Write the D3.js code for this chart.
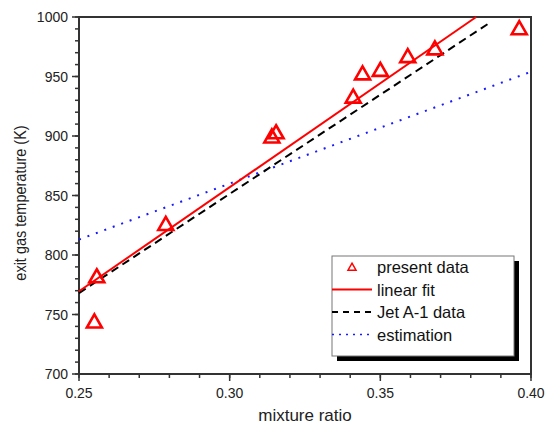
<!DOCTYPE html>
<html>
<head>
<meta charset="utf-8">
<script src="https://cdn.jsdelivr.net/npm/d3@7"></script>
<style>
  body { margin: 0; background: #fff; }
  text { font-family: "Liberation Sans", Arial, sans-serif; }
</style>
</head>
<body>
<svg id="chart" width="553" height="429"></svg>
<script>
// data
var ratio = [0.2551, 0.2559, 0.2788, 0.3140, 0.3154, 0.3410, 0.3441, 0.3500, 0.3591, 0.3681, 0.3961];
var temp  = [744, 782, 826, 899.5, 903, 933, 952.5, 955.5, 967, 973.5, 990.5];

var fitX = [0.25, 0.3818];      // linear fit end points
var fitY = [769.5, 1000];
var jetX = [0.25, 0.3868];      // Jet A-1 data
var jetY = [768, 996];
var estX = [0.25, 0.40];        // estimation
var estY = [813, 954];

var xTicks = [0.25, 0.30, 0.35, 0.40];
var yTicks = [700, 750, 800, 850, 900, 950, 1000];
var legendLabels = ["present data", "linear fit", "Jet A-1 data", "estimation"];

var margin = {left: 79, top: 17, right: 22, bottom: 55};
var width = 553 - margin.left - margin.right;
var height = 429 - margin.top - margin.bottom;

var svg = d3.select("#chart");
var g = svg.append("g").attr("transform", "translate(" + margin.left + "," + margin.top + ")");

var x = d3.scaleLinear().domain([0.25, 0.40]).range([0, width]);
var y = d3.scaleLinear().domain([700, 1000]).range([height, 0]);

// frame
g.append("rect")
  .attr("width", width).attr("height", height)
  .attr("fill", "none").attr("stroke", "#333").attr("stroke-width", 2);

// axes with minor ticks
var xMinor = d3.range(0.25, 0.4001, 0.01);
var yMinor = d3.range(700, 1001, 10);

var xAxis = g.append("g").attr("transform", "translate(0," + height + ")");
xAxis.selectAll("line.minor").data(xMinor).enter().append("line")
  .attr("x1", function(d) { return x(d); }).attr("x2", function(d) { return x(d); })
  .attr("y1", 0).attr("y2", 4).attr("stroke", "#333").attr("stroke-width", 1.5);
xAxis.selectAll("line.major").data(xTicks).enter().append("line")
  .attr("x1", function(d) { return x(d); }).attr("x2", function(d) { return x(d); })
  .attr("y1", 0).attr("y2", 7).attr("stroke", "#333").attr("stroke-width", 1.5);
xAxis.selectAll("text").data(xTicks).enter().append("text")
  .attr("x", function(d) { return x(d); }).attr("y", 24)
  .attr("text-anchor", "middle").attr("font-size", 14).attr("fill", "#222")
  .text(function(d) { return d3.format(".2f")(d); });

var yAxis = g.append("g");
yAxis.selectAll("line.minor").data(yMinor).enter().append("line")
  .attr("y1", function(d) { return y(d); }).attr("y2", function(d) { return y(d); })
  .attr("x1", 0).attr("x2", -4).attr("stroke", "#333").attr("stroke-width", 1.5);
yAxis.selectAll("line.major").data(yTicks).enter().append("line")
  .attr("y1", function(d) { return y(d); }).attr("y2", function(d) { return y(d); })
  .attr("x1", 0).attr("x2", -7).attr("stroke", "#333").attr("stroke-width", 1.5);
yAxis.selectAll("text").data(yTicks).enter().append("text")
  .attr("x", -11).attr("y", function(d) { return y(d) + 5; })
  .attr("text-anchor", "end").attr("font-size", 14).attr("fill", "#222")
  .text(function(d) { return d; });

// axis titles (picture looks a bit stretched sideways)
svg.append("text")
  .attr("x", margin.left + width / 2).attr("y", 421)
  .attr("text-anchor", "middle").attr("font-size", 17).attr("fill", "#222")
  .text("mixture ratio");
svg.append("text")
  .attr("transform", "translate(26,203) rotate(-90) scale(1,1.12)")
  .attr("text-anchor", "middle").attr("font-size", 14.5).attr("fill", "#222")
  .text("exit gas temperature (K)");

// lines
var line = d3.line().x(function(d) { return x(d[0]); }).y(function(d) { return y(d[1]); });
var plot = g.append("g");

plot.append("path").datum(d3.zip(estX, estY)).attr("d", line)
  .attr("fill", "none").attr("stroke", "#1a1aff").attr("stroke-width", 2)
  .attr("stroke-dasharray", "2,7");
plot.append("path").datum(d3.zip(jetX, jetY)).attr("d", line)
  .attr("fill", "none").attr("stroke", "#000").attr("stroke-width", 2)
  .attr("stroke-dasharray", "8,5");
plot.append("path").datum(d3.zip(fitX, fitY)).attr("d", line)
  .attr("fill", "none").attr("stroke", "#f00").attr("stroke-width", 2);

// triangle markers
function tri(s) {
  var h = s * 0.87;
  return "M0," + (-h * 0.55) + "L" + (s / 2) + "," + (h * 0.45) + "L" + (-s / 2) + "," + (h * 0.45) + "Z";
}
plot.selectAll("path.pt").data(d3.zip(ratio, temp)).enter().append("path")
  .attr("class", "pt")
  .attr("d", tri(15))
  .attr("transform", function(d) { return "translate(" + x(d[0]) + "," + y(d[1]) + ")"; })
  .attr("fill", "none").attr("stroke", "#f00").attr("stroke-width", 2.6);

// legend
var lg = svg.append("g").attr("transform", "translate(332,256)");
lg.append("rect").attr("x", 5).attr("y", 5).attr("width", 182).attr("height", 100).attr("fill", "#000");
lg.append("rect").attr("x", 0).attr("y", 0).attr("width", 182).attr("height", 100)
  .attr("fill", "#fff").attr("stroke", "#777").attr("stroke-width", 1);

var styles = [
  {stroke: "#f00", dash: null},
  {stroke: "#f00", dash: null},
  {stroke: "#000", dash: "6,5"},
  {stroke: "#1a1aff", dash: "2,5"}
];
legendLabels.forEach(function(lab, i) {
  var cy = 11 + 22.5 * i;
  if (i == 0) {
    lg.append("path").attr("d", tri(8))
      .attr("transform", "translate(20," + cy + ")")
      .attr("fill", "none").attr("stroke", "#f00").attr("stroke-width", 1.5);
  } else {
    lg.append("line").attr("x1", 0).attr("x2", 40).attr("y1", cy).attr("y2", cy)
      .attr("stroke", styles[i].stroke).attr("stroke-width", i == 3 ? 1.5 : 1.8)
      .attr("stroke-dasharray", styles[i].dash);
  }
  lg.append("text").attr("x", 45).attr("y", cy + 6)
    .attr("font-size", 16.5).attr("fill", "#111").text(lab);
});
</script>
</body>
</html>
